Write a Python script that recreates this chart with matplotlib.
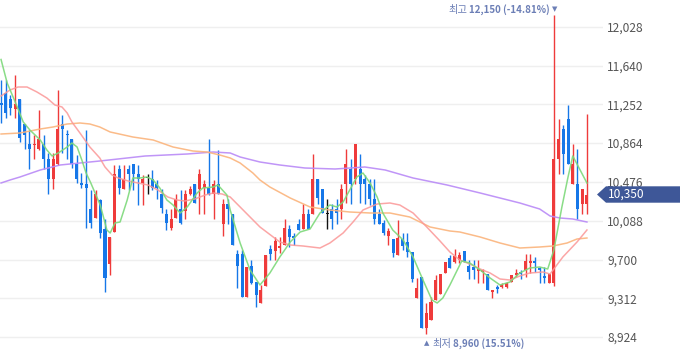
import numpy as np
import matplotlib
matplotlib.use("Agg")
import matplotlib.pyplot as plt
from matplotlib.patches import Polygon

plt.rcParams['font.family'] = ['Noto Sans CJK KR', 'DejaVu Sans']

# daily candles (KRW)
opens = [11260, 11365, 11305, 11205, 11305, 11055, 10855, 10845, 10805, 10855,
         10705, 10505, 10655, 11055, 10955, 10905, 10655, 10460, 10455, 10205,
         10115, 10295, 10005, 9655, 9975, 10605, 10405, 10605, 10655, 10555,
         10465, 10515, 10505, 10455, 10355, 10155, 10015, 10115, 10205, 10185,
         10355, 10455, 10405, 10415, 10415, 10355, 10455, 10055, 10255, 10155,
         9755, 9755, 9325, 9635, 9475, 9265, 9435, 9805, 9785, 9815,
         9845, 10005, 9930, 10055, 10005, 10155, 10155, 10505, 10405, 10155,
         10205, 10205, 10205, 10455, 10605, 10505, 10605, 10505, 10455, 10305,
         10155, 10065, 9935, 9905, 9745, 9905, 9875, 9775, 9315, 9525,
         9015, 9095, 9295, 9355, 9565, 9715, 9675, 9695, 9785, 9635,
         9625, 9585, 9575, 9555, 9375, 9420, 9425, 9425, 9475, 9545,
         9570, 9595, 9665, 9685, 9610, 9530, 9465, 9465, 10705, 11005,
         11105, 10455, 10455, 10255, 10255]
highs = [11495, 11495, 11345, 11545, 11305, 11055, 10995, 10945, 11195, 10945,
         10765, 10765, 11395, 11145, 10995, 10905, 10745, 10565, 10995, 10395,
         10395, 10305, 10105, 9925, 10645, 10645, 10645, 10645, 10655, 10645,
         10545, 10555, 10595, 10495, 10405, 10205, 10205, 10355, 10395, 10395,
         10435, 10455, 10605, 10495, 10905, 10495, 10795, 10305, 10305, 10155,
         9795, 9795, 9625, 9695, 9475, 9445, 9745, 9845, 9925, 9925,
         10105, 10045, 9965, 10105, 10255, 10205, 10755, 10505, 10405, 10305,
         10255, 10305, 10455, 10805, 10705, 10855, 10755, 10545, 10505, 10505,
         10205, 10095, 10015, 9905, 10095, 9965, 9965, 9775, 9515, 9525,
         9265, 9325, 9545, 9555, 9675, 9745, 9805, 9775, 9785, 9695,
         9695, 9695, 9605, 9555, 9395, 9445, 9465, 9475, 9545, 9605,
         9595, 9755, 9755, 9725, 9625, 9625, 9555, 12150, 11105, 11045,
         11245, 10855, 10805, 10405, 11155]
lows = [11065, 11115, 11145, 11115, 10875, 10805, 10605, 10705, 10795, 10605,
        10355, 10405, 10645, 10765, 10705, 10615, 10465, 10415, 10015, 10015,
        10115, 9915, 9375, 9545, 9975, 10355, 10405, 10395, 10395, 10245,
        10245, 10355, 10395, 10305, 10165, 9995, 9995, 10115, 10055, 10105,
        10345, 10265, 10155, 10155, 10345, 10105, 10355, 9935, 10055, 9845,
        9415, 9325, 9325, 9455, 9225, 9265, 9435, 9695, 9695, 9765,
        9845, 9825, 9845, 9995, 10005, 10005, 10155, 10255, 10165, 10005,
        10005, 10055, 10105, 10265, 10255, 10455, 10265, 10255, 10245, 10055,
        10055, 9945, 9845, 9725, 9745, 9795, 9725, 9475, 9315, 9015,
        8960, 9095, 9295, 9355, 9565, 9615, 9665, 9665, 9675, 9505,
        9505, 9465, 9465, 9395, 9315, 9365, 9415, 9415, 9475, 9525,
        9505, 9525, 9565, 9575, 9465, 9465, 9465, 9435, 10555, 10555,
        10655, 10455, 10105, 10155, 10155]
closes = [11250, 11165, 11215, 11255, 10915, 10945, 10805, 10855, 10905, 10705,
          10505, 10705, 11005, 11005, 10945, 10655, 10505, 10450, 10415, 10065,
          10355, 9965, 9515, 9925, 10555, 10415, 10505, 10555, 10555, 10505,
          10505, 10515, 10415, 10415, 10215, 10065, 10105, 10305, 10065, 10355,
          10405, 10265, 10555, 10455, 10355, 10455, 10355, 10255, 10205, 9845,
          9635, 9325, 9625, 9465, 9345, 9395, 9745, 9755, 9885, 9835,
          10015, 9925, 9920, 9995, 10155, 10005, 10505, 10315, 10165, 10155,
          10105, 10165, 10405, 10655, 10455, 10855, 10455, 10455, 10305, 10105,
          10055, 9965, 9985, 9765, 9915, 9835, 9775, 9505, 9415, 9015,
          9165, 9275, 9495, 9555, 9675, 9615, 9735, 9745, 9675, 9575,
          9595, 9605, 9595, 9395, 9395, 9410, 9445, 9465, 9545, 9565,
          9560, 9685, 9685, 9665, 9600, 9520, 9555, 10705, 10905, 10755,
          10655, 10655, 10205, 10405, 10350]

# moving averages (candle index, price)
ma5_x = [0, 1.3, 3, 4.7, 6.1, 8.3, 9.7, 10.8, 12.1, 14, 15, 16.1, 17.1, 18, 19, 19.9,
         21, 22.4, 23.1, 24.1, 25.2, 26.7, 27.9, 29.4, 30.9, 32.2, 33.6, 35.1, 36.4,
         37.9, 39.4, 41.5, 42.7, 44.9, 45.9, 47.8, 48.5, 50.6, 52.7, 54.8, 56.9, 59,
         61.2, 63.3, 65.4, 67.5, 69.6, 71.1, 72.4, 73.8, 75.3, 76.6, 78.1, 79.6, 80.8,
         82.9, 85.1, 87.2, 89.3, 91.2, 92.3, 93.5, 95, 97.5, 99.2, 101.4, 103.5, 105.6,
         107.7, 109.8, 111.9, 114, 115.7, 117, 118.7, 120, 121, 124]
ma5_y = [11700, 11465, 11275, 11075, 10995, 10895, 10795, 10735, 10765, 10825, 10865,
         10825, 10695, 10565, 10465, 10365, 10245, 9995, 9965, 10065, 10075, 10295,
         10515, 10515, 10525, 10495, 10415, 10295, 10245, 10165, 10225, 10365, 10415,
         10425, 10445, 10345, 10195, 9865, 9595, 9445, 9565, 9725, 9875, 9975, 10005,
         10165, 10245, 10225, 10275, 10395, 10525, 10565, 10465, 10325, 10165, 9995,
         9895, 9725, 9495, 9295, 9265, 9315, 9445, 9685, 9665, 9595, 9515, 9445, 9475,
         9565, 9615, 9625, 9605, 9795, 10225, 10525, 10735, 10465]
ma20_x = [0, 1.9, 3.6, 5.5, 7.6, 9.7, 11.4, 12.9, 14, 15, 16.7, 18.8, 20.9, 22, 23.5,
          24.8, 26.9, 29, 31.1, 33.2, 35.3, 37.2, 38.9, 41, 43.2, 44.9, 46.8, 48.5,
          50.6, 54.8, 59, 61.2, 63.9, 67.5, 69.6, 72.4, 74.5, 76.6, 79.6, 82.3, 84.4,
          87.2, 90.1, 92.9, 95, 97.1, 99.2, 101.4, 103.5, 105.6, 107.7, 109.8, 111.9,
          114.7, 116.2, 118.9, 121.9, 124]
ma20_y = [11335, 11395, 11425, 11425, 11375, 11315, 11245, 11225, 11165, 11075, 10965,
          10825, 10715, 10625, 10545, 10515, 10485, 10465, 10445, 10395, 10325, 10295,
          10285, 10305, 10345, 10365, 10355, 10325, 10225, 10025, 9875, 9845, 9835,
          9815, 9865, 9965, 10075, 10195, 10255, 10265, 10245, 10165, 10025, 9885,
          9775, 9695, 9655, 9605, 9565, 9505, 9495, 9535, 9565, 9575, 9555, 9725,
          9875, 9995]
ma60_x = [0, 4, 8.3, 11, 14, 16.7, 18.8, 20.9, 23.1, 27.9, 32.2, 36.4, 40.6, 43.6,
          46.3, 48.5, 50.6, 53.3, 54.8, 56.9, 61.2, 65.4, 69.6, 73.8, 78.1, 82.3,
          86.5, 90.8, 95, 97.1, 101.4, 105.6, 109.8, 114, 116.8, 119.8, 121.9, 124]
ma60_y = [10955, 10965, 11005, 11025, 11055, 11065, 11055, 11025, 10975, 10925, 10895,
          10825, 10785, 10775, 10745, 10715, 10665, 10565, 10495, 10425, 10315, 10225,
          10195, 10175, 10165, 10165, 10125, 10025, 9985, 9975, 9925, 9865, 9815,
          9825, 9835, 9865, 9905, 9915]
ma120_x = [0, 1.9, 4, 8.3, 12.5, 16.7, 20.9, 30.5, 39.4, 44.9, 48.5, 50.6, 54.8, 59,
           64.3, 70.7, 77, 81.3, 87.2, 94.4, 101.4, 109.8, 114, 116.2, 118.3, 121, 124]
ma120_y = [10465, 10495, 10525, 10595, 10645, 10665, 10685, 10735, 10755, 10775, 10765,
           10725, 10675, 10645, 10615, 10605, 10625, 10595, 10515, 10445, 10365, 10265,
           10205, 10135, 10115, 10105, 10075]

yticks = [8924, 9312, 9700, 10088, 10476, 10864, 11252, 11640, 12028]

RED = '#ef3b3b'
BLUE = '#1677e8'
LABEL = '#6c7fb6'

o = np.array(opens)
h = np.array(highs)
l = np.array(lows)
c = np.array(closes)
x = np.arange(len(o))
colors = np.where(c > o, RED, np.where(c < o, BLUE, '#111111'))

fig = plt.figure(figsize=(6.8, 3.58), dpi=100)
ax = fig.add_axes([0, 0, 603 / 680, 1])
ax.set_xlim(-0.22, 127.4)
ax.set_ylim(8715, 12295)

ax.set_yticks(yticks)
ax.set_yticklabels([f"{v:,}" for v in yticks])
ax.yaxis.tick_right()
ax.tick_params(axis='y', length=0, pad=3, labelsize=8.6, labelcolor='#555555')
ax.set_xticks([])
ax.grid(axis='y', color='#efefef', linewidth=1)
ax.set_axisbelow(True)
for s in ax.spines.values():
    s.set_visible(False)

# candles
ax.vlines(x, l, h, colors=colors, linewidth=1, zorder=2)
body = np.maximum(np.abs(c - o), 12)
ax.bar(x, body, bottom=np.minimum(o, c), width=0.64, color=colors, linewidth=0, zorder=2)

# moving averages
ax.plot(ma120_x, ma120_y, color='#b98af7', linewidth=1.1, alpha=0.9, zorder=3)
ax.plot(ma60_x, ma60_y, color='#fbb47c', linewidth=1.1, alpha=0.9, zorder=3)
ax.plot(ma20_x, ma20_y, color='#fb9797', linewidth=1.1, alpha=0.85, zorder=3)
ax.plot(ma5_x, ma5_y, color='#7dd97a', linewidth=1.1, alpha=0.9, zorder=3)

# highest / lowest marks
last = closes[-1]
ih = int(np.argmax(h))
il = int(np.argmin(l))
hi, lo = highs[ih], lows[il]
tri = ax.annotate("▼", xy=(ih, hi), xytext=(1, 5), textcoords='offset pixels',
                  ha='center', va='center', fontsize=5, color=LABEL,
                  family=['DejaVu Sans'])
hv = ax.annotate(f"{hi:,} ({(last - hi) / hi * 100:.2f}%)", xy=(0, 0.5), xycoords=tri,
                 xytext=(-2, 0), textcoords='offset pixels', ha='right', va='center',
                 fontsize=7.0, fontweight='bold', color=LABEL)
ax.annotate("최고", xy=(0, 0.5), xycoords=hv, xytext=(-2, 0), textcoords='offset pixels',
            ha='right', va='center', fontsize=7.4, color=LABEL)

tri2 = ax.annotate("▲", xy=(il, lo), xytext=(0, -10), textcoords='offset pixels',
                   ha='center', va='center', fontsize=5, color=LABEL,
                   family=['DejaVu Sans'])
lw = ax.annotate("최저", xy=(1, 0.5), xycoords=tri2, xytext=(3, 0), textcoords='offset pixels',
                 ha='left', va='center', fontsize=7.4, color=LABEL)
ax.annotate(f"{lo:,} ({(last - lo) / lo * 100:.2f}%)", xy=(1, 0.5), xycoords=lw,
            xytext=(2, 0), textcoords='offset pixels', ha='left', va='center',
            fontsize=7.0, fontweight='bold', color=LABEL)

# current price tag
tr = ax.get_yaxis_transform()
x0, x1, x2 = 597 / 603, 606 / 603, 680 / 603
hh = 82
tag = Polygon([(x0, last), (x1, last + hh), (x2, last + hh), (x2, last - hh), (x1, last - hh)],
              closed=True, transform=tr, facecolor='#3e5798', edgecolor='none',
              clip_on=False, zorder=10)
ax.add_patch(tag)
ax.text(608 / 603, last, f"{last:,}", transform=tr, ha='left', va='center',
        fontsize=8.6, color='white', zorder=11, clip_on=False)

fig.savefig("out.png", dpi=100)
